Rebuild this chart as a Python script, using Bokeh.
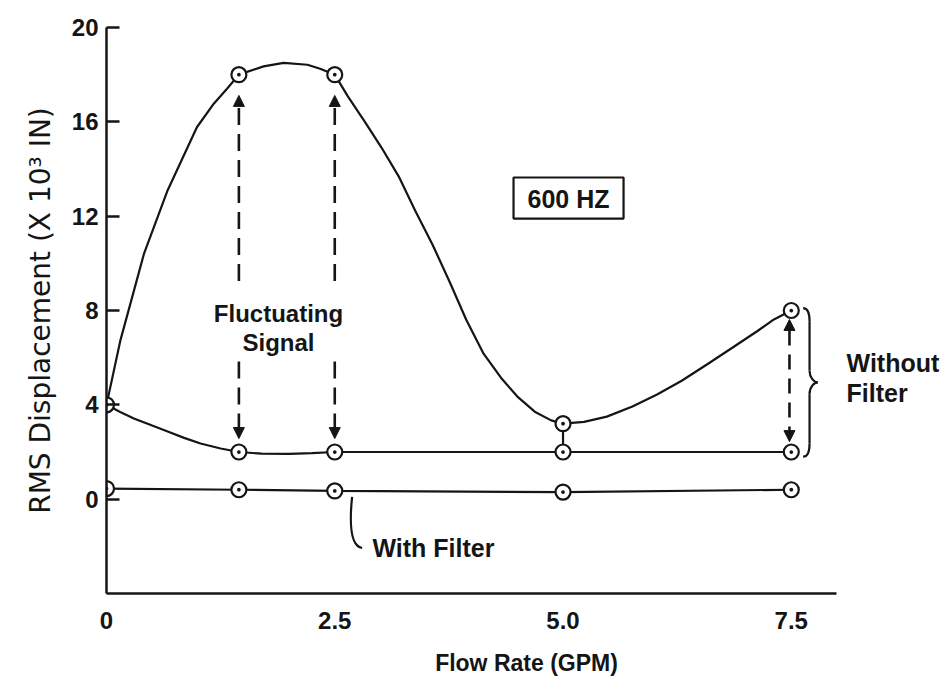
from bokeh.plotting import figure
from bokeh.models import Range1d, FixedTicker, Label, Arrow, NormalHead
from bokeh.embed import file_html
from bokeh.resources import INLINE

# ---------------- data ----------------
flow_points = [0.0, 1.45, 2.5, 5.0, 7.5]
without_peak = [4.0, 18.0, 18.0, 3.2, 8.0]      # without filter, upper envelope
without_base = [4.0, 2.0, 2.0, 2.0, 2.0]        # without filter, lower envelope
with_filter = [0.45, 0.4, 0.35, 0.3, 0.4]

# hand-drawn curves
peak_curve_x = [0.0, 0.15, 0.41, 0.67, 0.99, 1.175, 1.32, 1.45, 1.72, 1.94, 2.2, 2.34, 2.5,
                2.64, 2.83, 3.01, 3.2, 3.38, 3.57, 3.76, 3.94, 4.13, 4.32, 4.5, 4.69, 4.87, 5.0,
                5.23, 5.48, 5.76, 6.03, 6.3, 6.58, 6.85, 7.13, 7.31, 7.5]
peak_curve_y = [4.0, 6.7, 10.4, 13.1, 15.77, 16.77, 17.4, 18.0, 18.35, 18.5, 18.42, 18.25, 18.0,
                17.1, 16.0, 14.92, 13.69, 12.24, 10.8, 9.2, 7.61, 6.17, 5.15, 4.35, 3.71, 3.34, 3.2,
                3.28, 3.5, 3.93, 4.44, 5.02, 5.72, 6.41, 7.13, 7.62, 8.0]
base_curve_x = [0.0, 0.15, 0.3, 0.5, 0.67, 0.85, 1.03, 1.25, 1.45, 1.7, 2.0, 2.25, 2.5, 5.0, 7.5]
base_curve_y = [4.0, 3.7, 3.42, 3.12, 2.87, 2.6, 2.36, 2.15, 2.0, 1.93, 1.92, 1.95, 2.0, 2.0, 2.0]

x_ticks = [0, 2.5, 5, 7.5]
x_tick_labels = ["0", "2.5", "5.0", "7.5"]
y_ticks = [0, 4, 8, 12, 16, 20]

INK = "#151515"
FONT = "Liberation Sans"

p = figure(width=946, height=688, output_backend="svg", toolbar_location=None,
           x_range=Range1d(0, 9.2), y_range=Range1d(-4, 20),
           min_border_left=106, min_border_right=0, min_border_top=27, min_border_bottom=95)
p.grid.visible = False
p.outline_line_color = None
p.background_fill_color = "white"
p.border_fill_color = "white"

# ---- axes ----
xa = p.xaxis[0]
xa.bounds = (0, 8)
xa.ticker = FixedTicker(ticks=x_ticks)
xa.major_label_overrides = {t: s for t, s in zip(x_ticks, x_tick_labels)}
xa.major_tick_in = 0
xa.major_tick_out = 0
xa.minor_tick_line_color = None
xa.axis_line_width = 2.5
xa.axis_line_color = INK
xa.major_label_standoff = 18
xa.major_label_text_font = FONT
xa.major_label_text_font_style = "bold"
xa.major_label_text_font_size = "24px"
xa.major_label_text_color = INK
xa.axis_label = "Flow Rate (GPM)"
xa.axis_label_text_font = FONT
xa.axis_label_text_font_style = "bold"
xa.axis_label_text_font_size = "23px"
xa.axis_label_text_color = INK
xa.axis_label_standoff = 18

ya = p.yaxis[0]
ya.ticker = FixedTicker(ticks=y_ticks)
ya.major_tick_in = 13
ya.major_tick_out = 0
ya.major_tick_line_width = 2.5
ya.major_tick_line_color = INK
ya.minor_tick_line_color = None
ya.axis_line_width = 2.5
ya.axis_line_color = INK
ya.major_label_standoff = 8
ya.major_label_text_font = FONT
ya.major_label_text_font_style = "bold"
ya.major_label_text_font_size = "24px"
ya.major_label_text_color = INK
ya.axis_label = "RMS Displacement (X 10³ IN)"
ya.axis_label_text_font = "DejaVu Sans"
ya.axis_label_text_font_style = "normal"
ya.axis_label_text_font_size = "28px"
ya.axis_label_text_color = INK
ya.axis_label_standoff = 12

# ---- curves ----
p.line(peak_curve_x, peak_curve_y, line_color=INK, line_width=2.2)
p.line(base_curve_x, base_curve_y, line_color=INK, line_width=2.2)
p.line(flow_points, with_filter, line_color=INK, line_width=2.2)
# short link between the two points at 5.0
p.segment(x0=[flow_points[3]], y0=[without_peak[3]], x1=[flow_points[3]], y1=[without_base[3]],
          line_color=INK, line_width=2.2)

# ---- "600 HZ" box ----
p.quad(left=[4.458], right=[5.663], bottom=[11.90], top=[13.64],
       fill_color="white", line_color=INK, line_width=2.2)
p.add_layout(Label(x=5.06, y=12.74, text="600 HZ", text_font=FONT, text_font_style="bold",
                   text_font_size="25px", text_color=INK, text_align="center",
                   text_baseline="middle"))

# ---- fluctuating-signal arrows ----
def head():
    return NormalHead(size=11, fill_color=INK, line_color=INK, line_width=1)

for i in (1, 2):
    xv = flow_points[i]
    p.add_layout(Arrow(end=head(), x_start=xv, y_start=9.25, x_end=xv, y_end=without_peak[i] - 0.88,
                       line_color=INK, line_width=2.6, line_dash="17 9"))
    p.add_layout(Arrow(end=head(), x_start=xv, y_start=5.84, x_end=xv, y_end=without_base[i] + 0.57,
                       line_color=INK, line_width=2.6, line_dash="17 9"))
xl = flow_points[4]
p.add_layout(Arrow(start=head(), end=head(), x_start=xl - 0.02, y_start=without_base[4] + 0.44,
                   x_end=xl - 0.02, y_end=without_peak[4] - 0.38,
                   line_color=INK, line_width=2.6, line_dash="15 9"))

p.add_layout(Label(x=1.884, y=7.87, text="Fluctuating", text_align="center", text_baseline="middle",
                   text_font=FONT, text_font_style="bold", text_font_size="24px", text_color=INK))
p.add_layout(Label(x=1.884, y=6.66, text="Signal", text_align="center", text_baseline="middle",
                   text_font=FONT, text_font_style="bold", text_font_size="24px", text_color=INK))

# ---- brace "Without Filter" ----
top = without_peak[4] + 0.1
bot = without_base[4] - 0.2
mid = (top + bot) / 2
bx0, bx1, bx2 = xl + 0.13, xl + 0.20, xl + 0.29
p.bezier(x0=[bx0, bx1, bx2, bx1], y0=[top, mid + 0.5, mid, bot + 0.55],
         x1=[bx1, bx2, bx1, bx0], y1=[top - 0.55, mid, mid - 0.5, bot],
         cx0=[bx1 - 0.02, bx1, bx2 - 0.04, bx1], cy0=[top, mid + 0.2, mid, bot + 0.2],
         cx1=[bx1, bx2 - 0.04, bx1, bx1 - 0.02], cy1=[top - 0.2, mid, mid - 0.2, bot],
         line_color=INK, line_width=2.2)
p.segment(x0=[bx1, bx1], y0=[top - 0.55, mid - 0.5], x1=[bx1, bx1], y1=[mid + 0.5, bot + 0.55],
          line_color=INK, line_width=2.2)
p.add_layout(Label(x=8.105, y=5.77, text="Without", text_baseline="middle", text_font=FONT,
                   text_font_style="bold", text_font_size="25px", text_color=INK))
p.add_layout(Label(x=8.105, y=4.52, text="Filter", text_baseline="middle", text_font=FONT,
                   text_font_style="bold", text_font_size="25px", text_color=INK))

# ---- "With Filter" leader ----
p.bezier(x0=[2.69], y0=[0.1], x1=[2.80], y1=[-2.07], cx0=[2.655], cy0=[-1.2], cx1=[2.68], cy1=[-2.0],
         line_color=INK, line_width=2.2)
p.add_layout(Label(x=2.913, y=-2.09, text="With Filter", text_baseline="middle", text_font=FONT,
                   text_font_style="bold", text_font_size="25px", text_color=INK))

# ---- markers ----
mk = dict(marker="circle_dot", size=15, line_color=INK, line_width=2.2, fill_color="white")
p.scatter(flow_points, without_peak, **mk)
p.scatter(flow_points[1:], without_base[1:], **mk)
p.scatter(flow_points, with_filter, **mk)

open("out.html", "w").write(file_html(p, INLINE))
